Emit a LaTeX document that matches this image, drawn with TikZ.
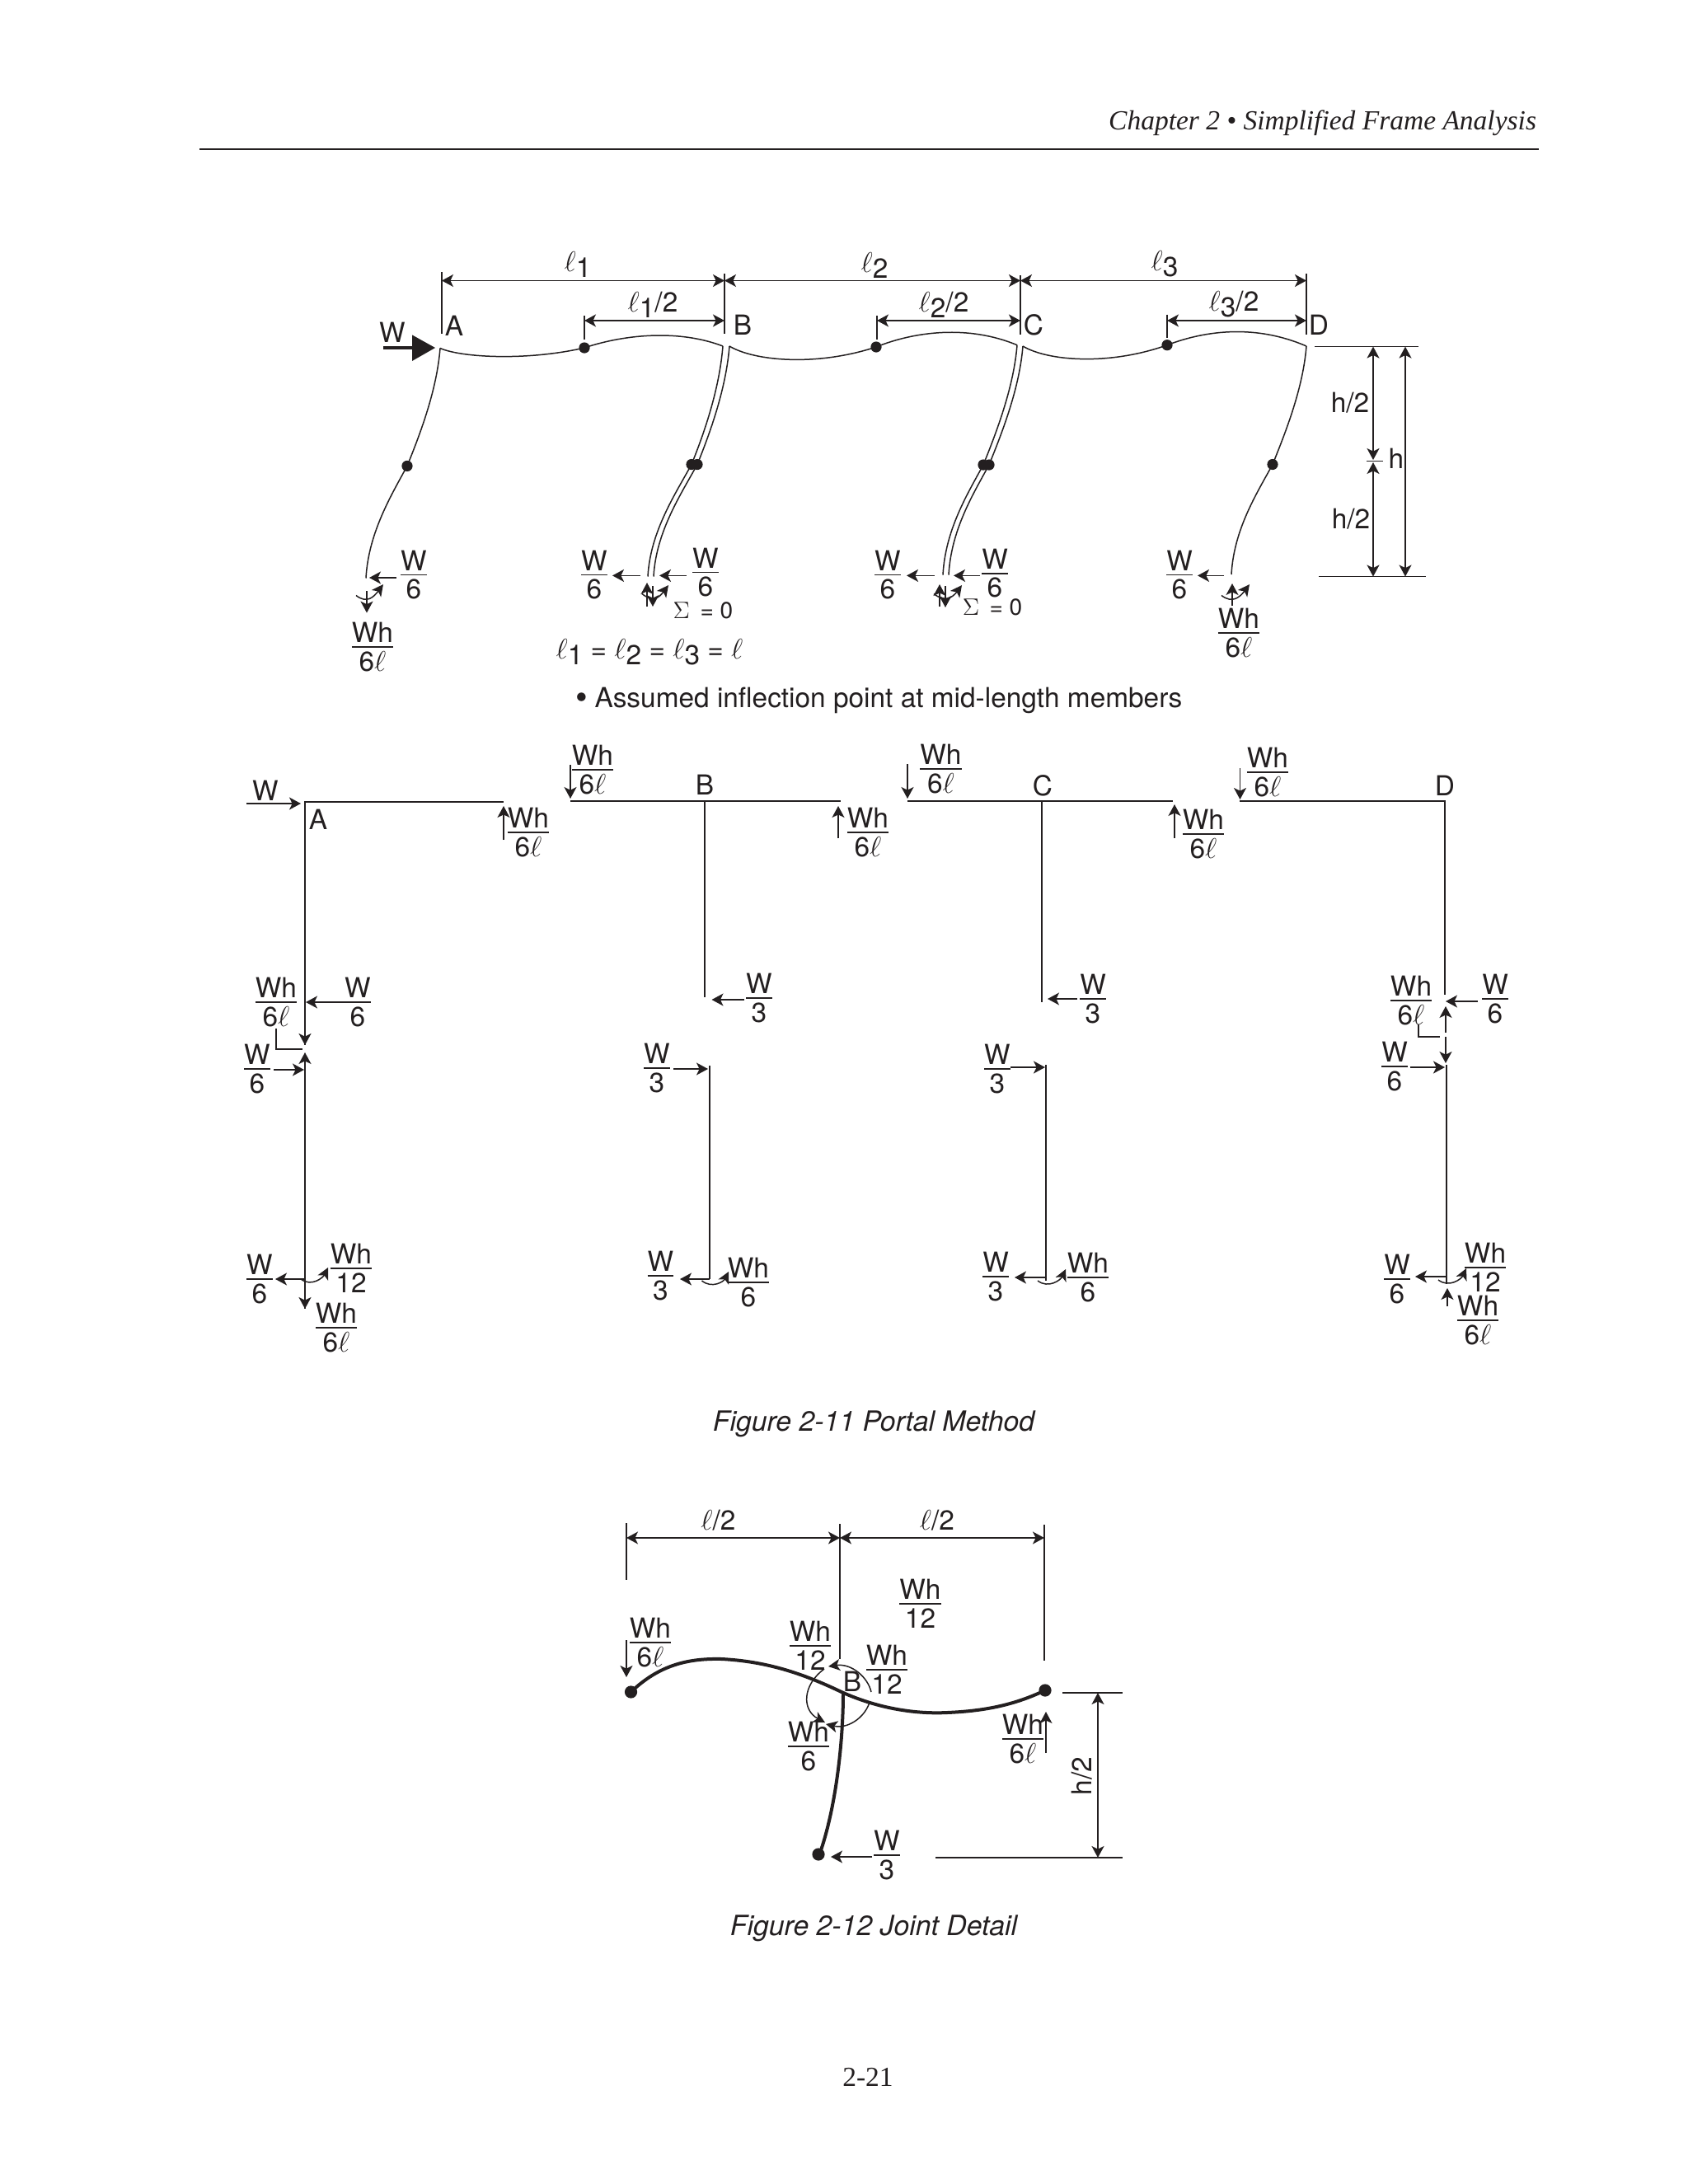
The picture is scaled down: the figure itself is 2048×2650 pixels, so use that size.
\documentclass[tikz,border=0pt]{standalone}
\usepackage{fontspec}
\setmainfont{TeX Gyre Heros}
\newfontfamily\pageserif{Liberation Serif}
\usetikzlibrary{arrows.meta}
\definecolor{ink}{HTML}{231F20}
\newcommand{\fr}[2]{\vbox{\offinterlineskip\halign{\hfil##\hfil\cr
  \rule{0pt}{12pt}\smash{#1}\cr
  \noalign{\kern2.2pt}
  \omit\leaders\hrule height 0.8pt\hfill\cr
  \noalign{\kern2.2pt}
  \rule{0pt}{12pt}\smash{#2}\cr}}}
\newcommand{\el}{$\ell$}
\newcommand{\ls}[1]{$\ell$\raisebox{-3.5pt}{#1}}
\newcommand{\frc}[5]{\node[lab] (#1) at (#2,#3) {\fr{#4}{#5}};}
\newcommand{\flexcol}[6]{%
  \draw[thinm] (#1,#2) .. controls (#1-4,#2+50) and (#3+17,#4-42) .. (#3,#4)
     .. controls (#3-19,#4+35) and (#5+3,#6-55) .. (#5,#6);}
\newcommand{\mom}[6]{\draw[momarc] (#1,#2) .. controls (#1+13,#2+10) and (#5-12,#6+16) .. (#5,#6);}
\tikzset{
  x=0.5pt,y=-0.5pt,
  lab/.style={inner sep=0pt,outer sep=0pt,text=ink,font=\fontsize{16.7}{19}\selectfont},
  thinm/.style={draw=ink,line width=0.75pt},
  framem/.style={draw=ink,line width=0.95pt},
  thickm/.style={draw=ink,line width=2pt,line cap=round},
  force/.style={draw=ink,line width=0.85pt,-{Stealth[length=7pt,width=7.5pt,inset=1.8pt]}},
  forcetwo/.style={draw=ink,line width=0.85pt,{Stealth[length=7pt,width=7.5pt,inset=1.8pt]}-{Stealth[length=7pt,width=7.5pt,inset=1.8pt]}},
  momarc/.style={draw=ink,line width=0.75pt,-{Stealth[length=7pt,width=7pt,inset=1.8pt]}},
  hinge/.style={circle,fill=ink,inner sep=0pt,minimum size=6.6pt},
  hingebig/.style={circle,fill=ink,inner sep=0pt,minimum size=7.6pt},
}
\begin{document}
\begin{tikzpicture}
\useasboundingbox[fill=white] (0,0) rectangle (2048,2650);
% header
\node[lab,anchor=base east,font=\fontsize{16.75}{19}\selectfont\pageserif\itshape] (hdr) at (1864,157) {Chapter 2 • Simplified Frame Analysis};
\draw[ink,line width=1.1pt] (242,181) -- (1867,181);

% ---- top frame: dimension ticks
\draw[thinm] (536,330) -- (536,405);
\draw[thinm] (879,332) -- (879,405);
\draw[thinm] (1238,334) -- (1238,406);
\draw[thinm] (1585,332) -- (1585,406);
\draw[thinm] (709,383) -- (709,412);
\draw[thinm] (1064,383) -- (1064,412);
\draw[thinm] (1416,381.5) -- (1416,410);
\draw[forcetwo] (536,340.5) -- (879,340.5);
\draw[forcetwo] (879,340.5) -- (1238,340.5);
\draw[forcetwo] (1238,340.5) -- (1585,340.5);
\draw[forcetwo] (709,389) -- (879,389);
\draw[forcetwo] (1064,389) -- (1238,389);
\draw[forcetwo] (1416,389) -- (1585,389);
\node[lab] (l1) at (701,321) {\ls{1}};
\node[lab] (l2) at (1061,322) {\ls{2}};
\node[lab] (l3) at (1413,320) {\ls{3}};
\node[lab] (l1h) at (792,370) {\ls{1}/2};
\node[lab] (l2h) at (1145,370) {\ls{2}/2};
\node[lab] (l3h) at (1497,369) {\ls{3}/2};
\node[lab] (tA) at (551,395) {A};
\node[lab] (tB) at (901,394) {B};
\node[lab] (tC) at (1254,394) {C};
\node[lab] (tD) at (1600,394) {D};
% load W
\node[lab] (tW) at (476,403) {W};
\draw[ink,line width=1.7pt] (465,422) -- (502,422);
\fill[ink] (528,422) -- (500,406.4) -- (500,438) -- cycle;
% beams
\draw[thinm] (534,422.5) .. controls (560,434) and (640,438) .. (709,422)
   .. controls (760,405) and (825,400) .. (877,420);
\draw[thinm] (885,420) .. controls (915,438) and (990,445) .. (1063,421)
   .. controls (1110,402) and (1175,394) .. (1234,418.7);
\draw[thinm] (1241,420) .. controls (1271,438) and (1345,444) .. (1416,418.7)
   .. controls (1465,400) and (1525,394) .. (1585,420);
% columns
\flexcol{534}{422.5}{494}{565.4}{444}{701.5}
\flexcol{877}{420}{839}{563.5}{786}{699.5}
\flexcol{885}{420}{846}{563.5}{793}{699.5}
\flexcol{1234}{418.7}{1193}{564}{1144}{697.6}
\flexcol{1241}{420}{1200}{564}{1151}{697.6}
\flexcol{1585}{420}{1544}{563.5}{1494}{697}
% inflection points
\node[hinge] (p1) at (709,422) {};
\node[hinge] (p2) at (1063,421) {};
\node[hinge] (p3) at (1416,418.7) {};
\node[hinge] (q1) at (494,565.4) {};
\node[hinge] (q2a) at (839,563.5) {};
\node[hinge] (q2b) at (846,563.5) {};
\node[hinge] (q3a) at (1193,564) {};
\node[hinge] (q3b) at (1200,564) {};
\node[hinge] (q4) at (1544,563.5) {};
% base A
\frc{a1}{502}{697.6}{W}{6}
\draw[force] (481,701) -- (448,701);
\mom{432}{722.5}{446}{728}{465}{709}
\draw[force] (445,717) -- (445,743.6);
\frc{a2}{452}{785}{Wh}{6\el}
% base B
\frc{b1}{721}{697.6}{W}{6}
\frc{b2}{856}{694.6}{W}{6}
\draw[force] (777,698.4) -- (743,698.4);
\draw[force] (833,698.4) -- (800,698.4);
\mom{779}{720.6}{790}{727.5}{811}{710}
\draw[force] (785,736) -- (785,707);
\draw[force] (792,711) -- (792,736);
\node[lab,font=\fontsize{14}{16}\selectfont] (sb) at (853,741) {$\Sigma$ \,= 0};
\node[lab] (leq) at (788,791.5) {\ls{1} = \ls{2} = \ls{3} = \el};
\node[lab,anchor=base west] (note) at (721.5,858.5) {\llap{\raisebox{-1pt}{\fontsize{21}{21}\selectfont •}\kern4pt}Assumed inflection point at mid-length members};
% base C
\frc{c1}{1077}{697.6}{W}{6}
\frc{c2}{1207}{695.7}{W}{6}
\draw[force] (1134,698.4) -- (1100,698.4);
\draw[force] (1189,698.4) -- (1157,698.4);
\mom{1133}{720.6}{1145}{728}{1167}{710}
\draw[force] (1140,736) -- (1140,709);
\draw[force] (1147,711) -- (1147,737);
\node[lab,font=\fontsize{14}{16}\selectfont] (sc) at (1204,737) {$\Sigma$ \,= 0};
% base D
\frc{d1}{1431}{697.6}{W}{6}
\draw[force] (1485,698.4) -- (1453,698.4);
\mom{1482}{722.5}{1497}{728}{1516}{709}
\draw[force] (1495,735) -- (1495,708);
\frc{d2}{1503}{768}{Wh}{6\el}
% right dims
\draw[thinm] (1595,420.6) -- (1721,420.6);
\draw[framem] (1600,699.5) -- (1730,699.5);
\draw[thinm] (1658,559.7) -- (1678,559.7);
\draw[forcetwo] (1666,420.6) -- (1666,558);
\draw[forcetwo] (1666,561) -- (1666,699.5);
\draw[forcetwo] (1705,420.6) -- (1705,699.5);
\node[lab] (h1) at (1638,489) {h/2};
\node[lab] (h2) at (1639,629.4) {h/2};
\node[lab] (h3) at (1694,556) {h};

% ---- free bodies, row 2
% A
\draw[framem] (611,973) -- (370,973) -- (370,1268);
\draw[force] (370,1230) -- (370,1268);
\draw[force] (299,975) -- (365,975);
\node[lab] (fW) at (322,959) {W};
\node[lab] (fA) at (386,994) {A};
\draw[force] (611,1019) -- (611,978);
\frc{fa1}{641}{1010}{Wh}{6\el}
\frc{fa2}{434}{1216}{W}{6}
\frc{fa3}{335}{1216}{Wh}{6\el}
\draw[force] (419,1216) -- (371,1216);
\draw[thinm] (335,1248) -- (335,1273) -- (367,1273);
\frc{fa4}{312}{1297}{W}{6}
\draw[force] (332,1298) -- (369,1298);
\draw[framem] (370,1300) -- (370,1588);
\draw[force] (370,1300) -- (370,1277);
\draw[force] (370,1560) -- (370,1588);
\frc{fa5}{315}{1552}{W}{6}
\draw[force] (370,1552) -- (334,1552);
\draw[momarc] (365,1552) .. controls (378,1562) and (392,1550) .. (398,1538);
\frc{fa6}{426}{1539}{Wh}{12}
\frc{fa7}{408}{1611}{Wh}{6\el}
% B
\draw[framem] (692,972) -- (1020,972);
\draw[framem] (855,972) -- (855,1210);
\draw[force] (692,928) -- (692,969);
\frc{fb1}{719}{934}{Wh}{6\el}
\node[lab] (fB) at (855,952) {B};
\draw[force] (1017,1017) -- (1017,978);
\frc{fb2}{1053}{1010}{Wh}{6\el}
\frc{fb3}{921}{1211}{W}{3}
\draw[force] (903,1213) -- (863.5,1213);
\draw[framem] (861,1293) -- (861,1552);
\frc{fb4}{797}{1296}{W}{3}
\draw[force] (817,1297) -- (859,1297);
\frc{fb5}{801.5}{1548}{W}{3}
\draw[force] (861,1552) -- (825,1552);
\draw[momarc] (851.5,1554) .. controls (864,1564) and (878,1555) .. (884,1543);
\frc{fb6}{908}{1556}{Wh}{6}
% C
\draw[framem] (1101,972) -- (1423,972);
\draw[framem] (1264,972) -- (1264,1216);
\draw[force] (1101,927) -- (1101,969);
\frc{fc1}{1141.5}{933}{Wh}{6\el}
\node[lab] (fC) at (1265,953) {C};
\draw[force] (1425,1017) -- (1425,976);
\frc{fc2}{1460}{1012}{Wh}{6\el}
\frc{fc3}{1326}{1212}{W}{3}
\draw[force] (1307,1212) -- (1271,1212);
\draw[framem] (1269,1292) -- (1269,1554);
\frc{fc4}{1210}{1297}{W}{3}
\draw[force] (1226,1295) -- (1268,1295);
\frc{fc5}{1208}{1549}{W}{3}
\draw[force] (1268,1550) -- (1231,1550);
\draw[momarc] (1259,1554) .. controls (1272,1564) and (1287,1553) .. (1293,1540);
\frc{fc6}{1320}{1550}{Wh}{6}
% D
\draw[framem] (1504,972) -- (1753,972) -- (1753,1207);
\draw[force] (1504.5,932) -- (1504.5,970);
\frc{fd1}{1538}{937}{Wh}{6\el}
\node[lab] (fD) at (1753,953) {D};
\frc{fd2}{1814}{1212}{W}{6}
\draw[force] (1793,1215) -- (1754,1215);
\frc{fd3}{1712}{1214}{Wh}{6\el}
\draw[force] (1754,1253) -- (1754,1221);
\draw[force] (1754,1258) -- (1754,1290);
\draw[thinm] (1721,1243) -- (1721,1258) -- (1747,1258);
\frc{fd4}{1692}{1294}{W}{6}
\draw[force] (1711,1295) -- (1753,1295);
\draw[framem] (1755,1292) -- (1755,1558);
\frc{fd5}{1695}{1552}{W}{6}
\draw[force] (1755,1549) -- (1717,1549);
\draw[momarc] (1745,1553) .. controls (1758,1563) and (1773,1552) .. (1779,1539);
\frc{fd6}{1802}{1538}{Wh}{12}
\frc{fd7}{1793}{1602}{Wh}{6\el}
\draw[force] (1756,1585) -- (1756,1563);

\node[lab,font=\fontsize{16.9}{19}\selectfont\itshape] (cap1) at (1060,1728) {Figure 2-11 Portal Method};

% ---- joint detail
\draw[thinm] (760,1848) -- (760,1917);
\draw[thinm] (1019,1849) -- (1019,2013);
\draw[thinm] (1267,1850) -- (1267,2015);
\draw[forcetwo] (760,1866) -- (1019,1866);
\draw[forcetwo] (1019,1866) -- (1267,1866);
\node[lab] (j1) at (871.5,1845) {\el/2};
\node[lab] (j2) at (1137,1845) {\el/2};
\draw[thickm] (765.5,2053) .. controls (800,2020) and (835,2012) .. (876,2013)
   .. controls (930,2016) and (973,2030) .. (1021,2053)
   .. controls (1063,2072) and (1108,2080) .. (1149,2078)
   .. controls (1197,2076) and (1232,2068) .. (1268,2051);
\draw[thickm] (1023,2055) .. controls (1023,2110) and (1015,2190) .. (995,2248);
\node[hingebig] (jl) at (765.5,2053) {};
\node[hingebig] (jr) at (1268,2051) {};
\node[hingebig] (jb) at (993,2250) {};
\frc{j3}{789}{1993}{Wh}{6\el}
\draw[force] (760,1990) -- (760,2035);
\frc{j4}{983}{1997}{Wh}{12}
\frc{j5}{1116.5}{1946}{Wh}{12}
\frc{j6}{1076}{2026}{Wh}{12}
\node[lab] (jB) at (1034,2040) {B};
\frc{j7}{981}{2119}{Wh}{6}
\frc{j8}{1241}{2110}{Wh}{6\el}
\draw[force] (1269,2127) -- (1269,2077);
\frc{j9}{1076}{2251}{W}{3}
\draw[force] (1058,2253) -- (1008,2253);
\draw[momarc] (1057,2053) .. controls (1053,2035) and (1033,2018) .. (1005,2022);
\draw[momarc] (1000,2025) .. controls (973,2045) and (973,2075) .. (1001,2090);
\draw[momarc] (1054.5,2067) .. controls (1048,2085) and (1028,2098) .. (1002,2092);
\draw[thinm] (1289,2054) -- (1362,2054);
\draw[framem] (1135,2254) -- (1362,2254);
\draw[forcetwo] (1332,2054) -- (1332,2254);
\node[lab,rotate=90] (jh) at (1312.6,2155) {h/2};

\node[lab,font=\fontsize{16.9}{19}\selectfont\itshape] (cap2) at (1060,2340) {Figure 2-12 Joint Detail};
\node[lab,font=\fontsize{16.75}{19}\selectfont\pageserif] (pg) at (1053,2520) {2-21};
\end{tikzpicture}
\end{document}
